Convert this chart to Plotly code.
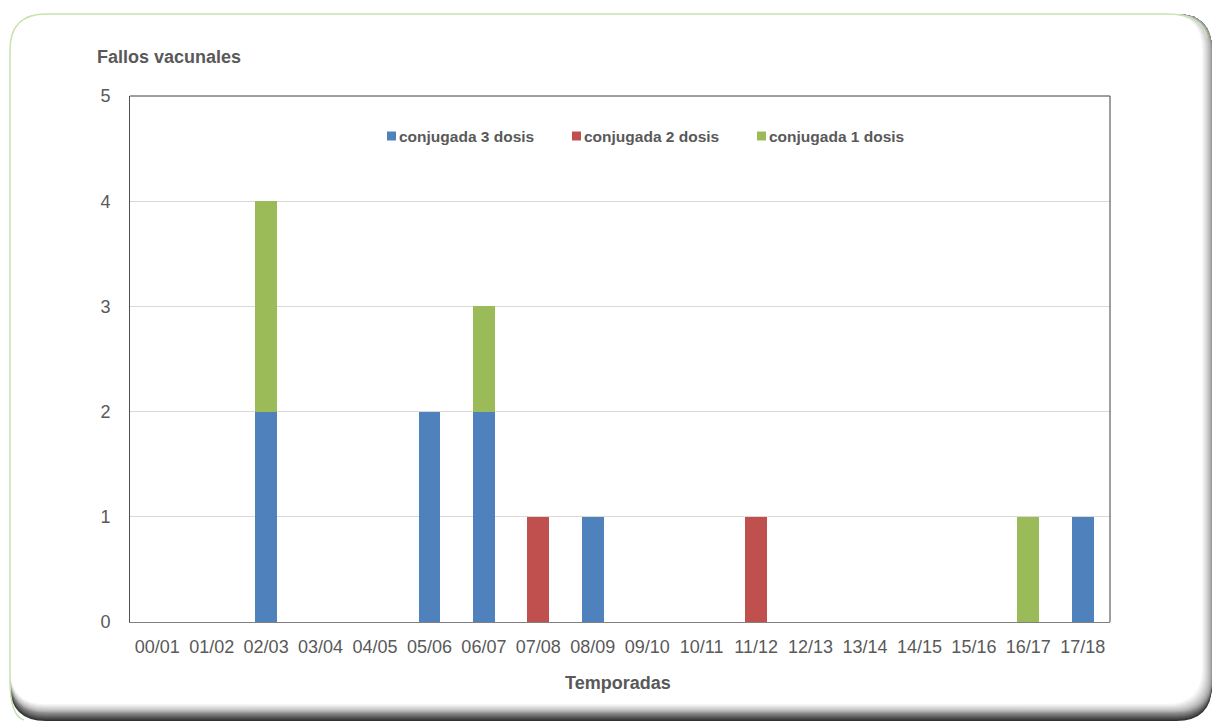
import plotly.graph_objects as go

categories = ["00/01", "01/02", "02/03", "03/04", "04/05", "05/06", "06/07", "07/08", "08/09",
              "09/10", "10/11", "11/12", "12/13", "13/14", "14/15", "15/16", "16/17", "17/18"]
dosis3 = [0, 0, 2, 0, 0, 2, 2, 0, 1, 0, 0, 0, 0, 0, 0, 0, 0, 1]
dosis2 = [0, 0, 0, 0, 0, 0, 0, 1, 0, 0, 0, 1, 0, 0, 0, 0, 0, 0]
dosis1 = [0, 0, 2, 0, 0, 0, 1, 0, 0, 0, 0, 0, 0, 0, 0, 0, 1, 0]
series_names = ["conjugada 3 dosis", "conjugada 2 dosis", "conjugada 1 dosis"]
colors = ["#4F81BD", "#C0504D", "#9BBB59"]

W, H = 1213, 724
L, R, T, B = 130, 1110, 96, 622
FONT = "Arial, Liberation Sans, sans-serif"
GREY = "#595959"

def px(x):
    return (x - L) / (R - L)

def py(y):
    return (B - y) / (B - T)

def rrect(x0, y0, x1, y1, r):
    pts = [
        f"M{px(x0 + r)},{py(y0)}",
        f"L{px(x1 - r)},{py(y0)}",
        f"Q{px(x1)},{py(y0)} {px(x1)},{py(y0 + r)}",
        f"L{px(x1)},{py(y1 - r)}",
        f"Q{px(x1)},{py(y1)} {px(x1 - r)},{py(y1)}",
        f"L{px(x0 + r)},{py(y1)}",
        f"Q{px(x0)},{py(y1)} {px(x0)},{py(y1 - r)}",
        f"L{px(x0)},{py(y0 + r)}",
        f"Q{px(x0)},{py(y0)} {px(x0 + r)},{py(y0)}",
        "Z",
    ]
    return " ".join(pts)

shapes = []
# bevel / shadow: phase 1 darkens only the bottom, phase 2 fades right and bottom to white
N1, N2 = 8, 12
for i in range(N1):
    t = i / N1
    v = int(50 + (150 - 50) * t)
    shapes.append(dict(type="path", xref="paper", yref="paper", layer="below",
                       path=rrect(10, 14, 1212, 721 - t * 8, 36),
                       fillcolor=f"rgb({v},{v},{v})", line=dict(width=0)))
for i in range(N2 + 1):
    t = i / N2
    v = int(150 + (255 - 150) * (t ** 0.7))
    shapes.append(dict(type="path", xref="paper", yref="paper", layer="below",
                       path=rrect(10, 14, 1212 - t * 10, 713 - t * 9, 36),
                       fillcolor=f"rgb({v},{v},{v})", line=dict(width=0)))
# green rim on left and top
r = 36
x0, y0, x1, ybot = 10, 14, 1203, 716
green = " ".join([
    f"M{px(x0 + 14)},{py(ybot + 4)}",
    f"Q{px(x0)},{py(ybot)} {px(x0)},{py(ybot - r)}",
    f"L{px(x0)},{py(y0 + r)}",
    f"Q{px(x0)},{py(y0)} {px(x0 + r)},{py(y0)}",
    f"L{px(x1 - r)},{py(y0)}",
    f"Q{px(x1)},{py(y0)} {px(x1 + 4)},{py(y0 + 24)}",
])
shapes.append(dict(type="path", xref="paper", yref="paper", layer="below", path=green,
                   line=dict(color="#C8E2B0", width=1.5)))

# plot frame top/right
shapes += [
    dict(type="line", xref="paper", yref="paper", x0=0, x1=1, y0=1, y1=1,
         line=dict(color="#404040", width=1)),
    dict(type="line", xref="paper", yref="paper", x0=1, x1=1, y0=0, y1=1,
         line=dict(color="#404040", width=1)),
]

# custom compact legend
annotations = []
leg_x = [387, 572, 757]
leg_y = 136
for name, col, lx in zip(series_names, colors, leg_x):
    shapes.append(dict(type="rect", xref="paper", yref="paper",
                       x0=px(lx), x1=px(lx + 9), y0=py(leg_y + 4.5), y1=py(leg_y - 4.5),
                       fillcolor=col, line=dict(width=0)))
    annotations.append(dict(text=f"<b>{name}</b>", xref="paper", yref="paper",
                            x=px(lx + 10), y=py(leg_y), xanchor="left", yanchor="middle",
                            showarrow=False, font=dict(family=FONT, size=15.5, color=GREY)))

annotations += [
    dict(text="<b>Fallos vacunales</b>", xref="paper", yref="paper", x=px(95), y=py(57),
         xanchor="left", yanchor="middle", showarrow=False,
         font=dict(family=FONT, size=18, color=GREY)),
    dict(text="<b>Temporadas</b>", xref="paper", yref="paper", x=px(618), y=py(683),
         xanchor="center", yanchor="middle", showarrow=False,
         font=dict(family=FONT, size=18, color=GREY)),
]

fig = go.Figure()
for name, vals, col in zip(series_names, [dosis3, dosis2, dosis1], colors):
    fig.add_trace(go.Bar(x=categories, y=vals, name=name, marker=dict(color=col, line=dict(width=0))))

fig.update_layout(
    width=W, height=H,
    margin=dict(l=L, r=W - R, t=T, b=H - B),
    barmode="stack", bargap=0.6,
    paper_bgcolor="white", plot_bgcolor="rgba(0,0,0,0)",
    font=dict(family=FONT, color=GREY, size=18),
    showlegend=False,
    xaxis=dict(type="category", showgrid=False, showline=True, linecolor="#808080", linewidth=1,
               mirror=False, ticks="", tickfont=dict(size=18, color=GREY), ticklabelstandoff=8,
               fixedrange=True),
    yaxis=dict(range=[0, 5], dtick=1, showgrid=True, gridcolor="#D9D9D9", gridwidth=1,
               showline=True, linecolor="#505050", linewidth=1, mirror=False, zeroline=False,
               ticks="", tickfont=dict(size=18, color=GREY), ticklabelstandoff=15,
               fixedrange=True),
    shapes=shapes,
    annotations=annotations,
)

fig.write_html("out.html")
